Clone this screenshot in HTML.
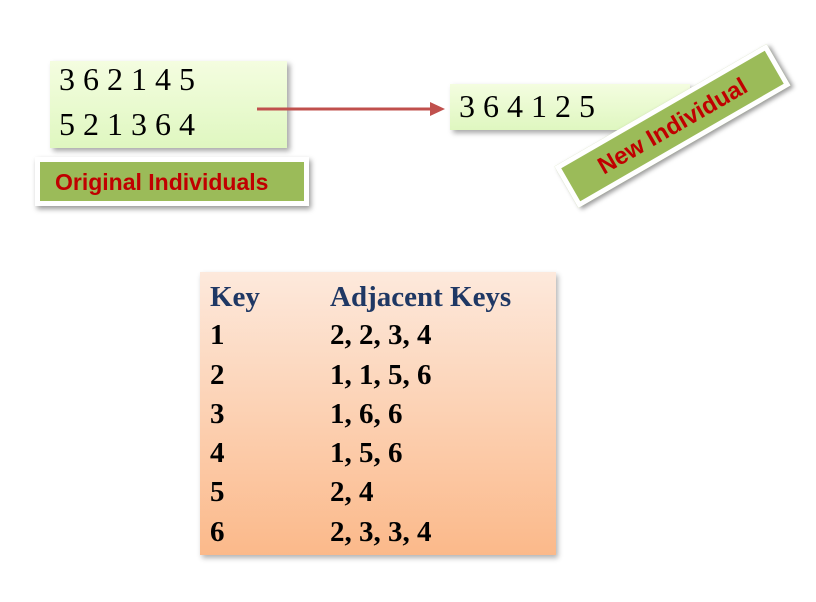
<!DOCTYPE html>
<html><head><meta charset="utf-8"><style>
body{margin:0;width:816px;height:602px;background:#fff;position:relative;overflow:hidden;font-family:"Liberation Serif",serif}
.box{position:absolute;background:linear-gradient(#f4fde0,#dff7c0);box-shadow:3px 3px 5px rgba(0,0,0,.35)}
.num{position:absolute;font-size:32px;line-height:36px;color:#000;white-space:nowrap}
.lab{position:absolute;background:#9bbb59;border:5px solid #fff;box-shadow:2px 3px 5px rgba(0,0,0,.4);font-family:"Liberation Sans",sans-serif;font-weight:bold;color:#c00000;font-size:23px;box-sizing:border-box;white-space:nowrap}
.t{position:absolute;font-weight:bold;font-size:29px;line-height:32px;white-space:nowrap}
</style></head><body>
<div class="box" style="left:50px;top:61px;width:237px;height:87px"></div>
<div class="num" style="left:59px;top:61px">3 6 2 1 4 5</div>
<div class="num" style="left:59px;top:106px">5 2 1 3 6 4</div>
<div class="lab" style="left:35px;top:157px;width:274px;height:49px;padding:7px 0 0 15px">Original Individuals</div>
<div class="box" style="left:450px;top:84px;width:240px;height:46px"></div>
<div class="num" style="left:459px;top:88px">3 6 4 1 2 5</div>
<svg style="position:absolute;left:0;top:0" width="816" height="602">
<line x1="257" y1="109" x2="432" y2="109" stroke="#c0504d" stroke-width="3"/>
<polygon points="430,102 445,109 430,116" fill="#c0504d"/>
</svg>
<div class="lab" style="left:550px;top:102px;width:245px;height:48px;transform:rotate(-30deg);text-align:center;padding-top:6px;font-size:24px">New Individual</div>
<div style="position:absolute;left:200px;top:272px;width:356px;height:283px;background:linear-gradient(#fde9dc,#fbb98a);box-shadow:2px 3px 5px rgba(0,0,0,.3)"></div>
<div class="t" style="left:210px;top:281px;color:#1f3864">Key</div>
<div class="t" style="left:330px;top:281px;color:#1f3864">Adjacent Keys</div>
<div class="t" style="left:210px;top:319px">1</div><div class="t" style="left:330px;top:319px">2, 2, 3, 4</div>
<div class="t" style="left:210px;top:359px">2</div><div class="t" style="left:330px;top:359px">1, 1, 5, 6</div>
<div class="t" style="left:210px;top:398px">3</div><div class="t" style="left:330px;top:398px">1, 6, 6</div>
<div class="t" style="left:210px;top:437px">4</div><div class="t" style="left:330px;top:437px">1, 5, 6</div>
<div class="t" style="left:210px;top:476px">5</div><div class="t" style="left:330px;top:476px">2, 4</div>
<div class="t" style="left:210px;top:516px">6</div><div class="t" style="left:330px;top:516px">2, 3, 3, 4</div>
</body></html>
